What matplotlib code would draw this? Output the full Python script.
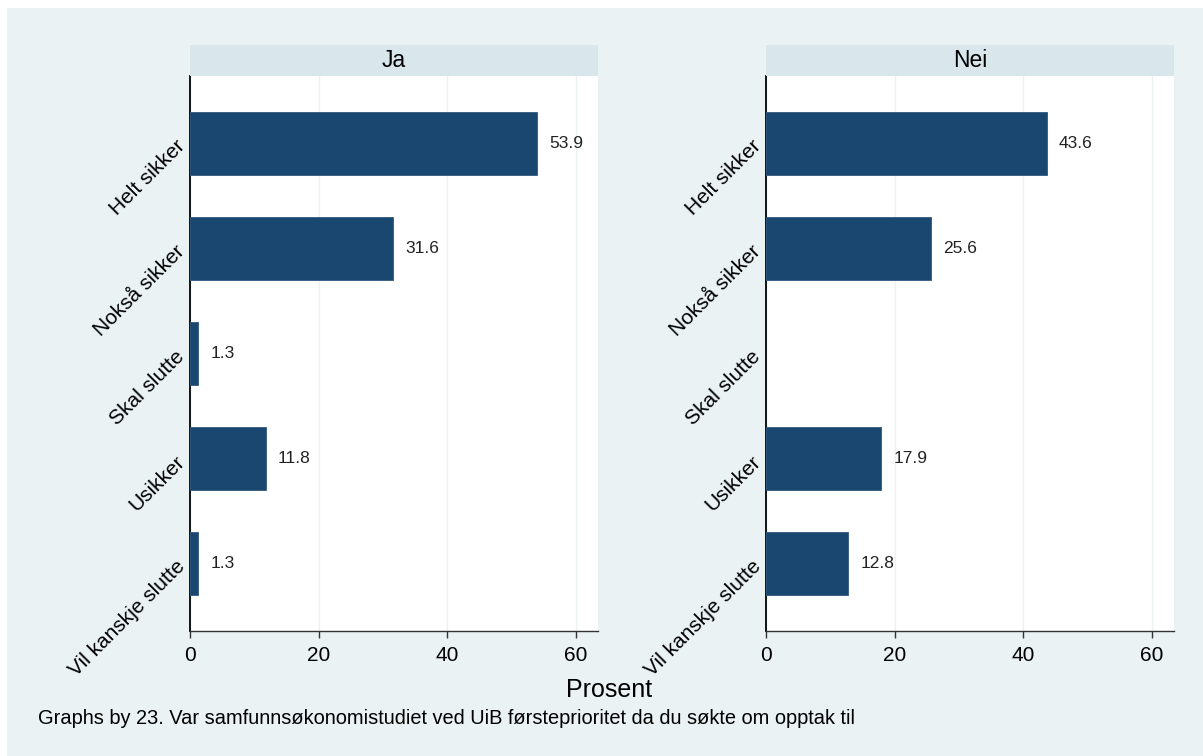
import matplotlib
matplotlib.use("Agg")
import matplotlib.pyplot as plt
from matplotlib.patches import Rectangle
import numpy as np

plt.rcParams['font.family'] = ['Liberation Sans', 'DejaVu Sans']

categories = ["Helt sikker", "Nokså sikker", "Skal slutte", "Usikker", "Vil kanskje slutte"]
panels = ["Ja", "Nei"]
values_ja = [53.9, 31.6, 1.3, 11.8, 1.3]
values_nei = [43.6, 25.6, np.nan, 17.9, 12.8]
xticks = [0, 20, 40, 60]
xlabel = "Prosent"
caption = "Graphs by 23. Var samfunnsøkonomistudiet ved UiB førsteprioritet da du søkte om opptak til"

W, H = 1203, 756
fig = plt.figure(figsize=(W / 100, H / 100), dpi=100, facecolor="white")
bg = "#EAF2F3"
strip_c = "#D9E6EB"
bar_c = "#1A476F"

fig.patches.append(Rectangle((7 / W, 0), 1 - 7 / W, 1 - 8 / H, transform=fig.transFigure,
                             facecolor=bg, edgecolor="none", zorder=-10))

def fx(px):
    return px / W

def fy(py):
    return 1 - py / H

lefts = [190, 766]
width_px = 408
top_px, bot_px = 76, 631
strip_top = 45

for left, name, vals in zip(lefts, panels, [values_ja, values_nei]):
    ax = fig.add_axes([fx(left), fy(bot_px), width_px / W, (bot_px - top_px) / H])
    ax.set_facecolor("white")
    y = np.arange(len(categories))
    v = np.array(vals, dtype=float)
    mask = ~np.isnan(v)
    ax.barh(y[mask], v[mask], height=0.6, color=bar_c, edgecolor="#2F5A80", linewidth=0.6, zorder=3)
    for yi, vi in zip(y[mask], v[mask]):
        ax.annotate(f"{vi:.1f}", xy=(vi, yi), xytext=(8.6, 0), textcoords="offset points",
                    ha="left", va="center", fontsize=12.5, color="#222222", zorder=4)
    ax.set_xlim(0, 63.4)
    ax.set_ylim(len(categories) - 1 + 0.64, -0.64)
    ax.set_xticks(xticks)
    ax.set_xticklabels([str(t) for t in xticks], fontsize=15)
    ax.set_yticks(y)
    ax.set_yticklabels(categories, fontsize=15, rotation=45, ha="right", va="center",
                       rotation_mode="anchor")
    ax.tick_params(axis="y", length=0, pad=6)
    ax.tick_params(axis="x", length=5, width=1, color="#333333", pad=6)
    ax.grid(axis="x", color=bg, linewidth=1, zorder=0)
    ax.set_axisbelow(True)
    for s in ["top", "right"]:
        ax.spines[s].set_visible(False)
    ax.spines["left"].set_color("black")
    ax.spines["left"].set_linewidth(1.3)
    ax.spines["bottom"].set_color("#333333")
    ax.spines["bottom"].set_linewidth(1.0)

    sax = fig.add_axes([fx(left), fy(top_px), width_px / W, (top_px - strip_top) / H])
    sax.set_facecolor(strip_c)
    sax.set_xticks([])
    sax.set_yticks([])
    for s in sax.spines.values():
        s.set_visible(False)
    sax.text(0.5, 0.5, name, ha="center", va="center", fontsize=16.5, color="black",
             transform=sax.transAxes)

fig.text(fx(609), fy(690), xlabel, ha="center", va="center", fontsize=18, color="black")
fig.text(fx(38), fy(718), caption, ha="left", va="center", fontsize=14.4, color="black")

fig.savefig("out.png", dpi=100, facecolor="white")
